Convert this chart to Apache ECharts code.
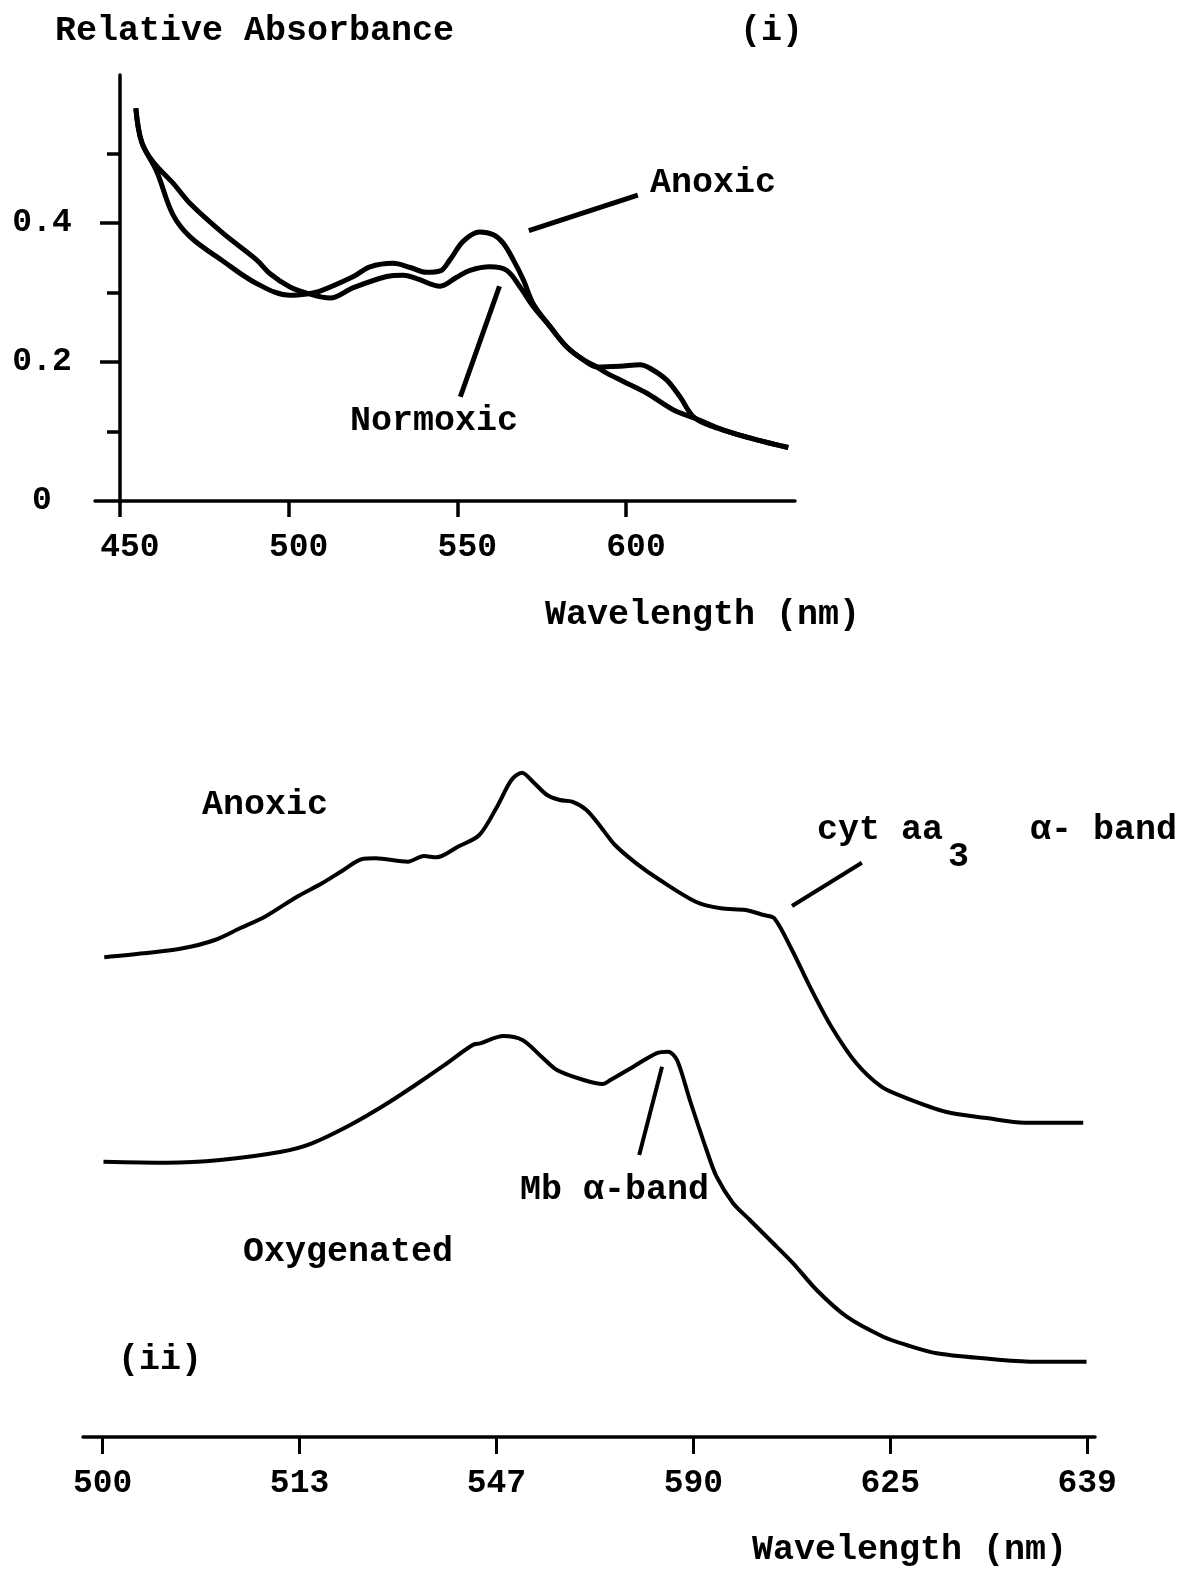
<!DOCTYPE html>
<html>
<head>
<meta charset="utf-8">
<script src="https://cdn.jsdelivr.net/npm/echarts@6/dist/echarts.min.js"></script>
<style>
  html, body { margin: 0; padding: 0; background: #fff; }
  #chart { width: 1181px; height: 1569px; }
</style>
</head>
<body>
<div id="chart"></div>
<script>
// ---------- Panel (i): Relative absorbance vs wavelength (nm) ----------
const xTicksI = [450, 500, 550, 600];
const yMajorTicksI = [0, 0.2, 0.4];
const yMinorTicksI = [0.1, 0.3, 0.5];

const anoxicI = [
  [454.7, 0.565], [456.4, 0.517], [460.9, 0.474], [465.7, 0.412], [470.8, 0.380],
  [480.6, 0.345], [490.5, 0.313], [500.4, 0.296], [505.4, 0.298],
  [509.3, 0.302], [519.2, 0.323], [524.1, 0.337], [531.0, 0.342], [536.0, 0.336],
  [540.9, 0.329], [544.9, 0.331], [547.8, 0.347], [551.8, 0.374], [556.7, 0.387],
  [560.7, 0.383], [563.6, 0.371], [566.6, 0.347], [569.6, 0.318], [572.5, 0.284],
  [577.5, 0.251], [582.4, 0.222], [587.4, 0.203], [591.3, 0.193], [598.2, 0.194],
  [604.2, 0.196], [607.1, 0.191], [612.1, 0.174], [616.0, 0.150], [620.5, 0.119],
  [628.9, 0.102], [638.8, 0.088], [648.1, 0.077]
];

const normoxicI = [
  [454.7, 0.565], [456.4, 0.517], [459.8, 0.488], [465.8, 0.457], [470.8, 0.428],
  [480.6, 0.385], [490.5, 0.347], [494.5, 0.327], [500.4, 0.308], [505.4, 0.299],
  [512.3, 0.292], [519.2, 0.307], [529.1, 0.323], [534.0, 0.325], [538.0, 0.320],
  [544.9, 0.309], [549.8, 0.322], [553.8, 0.332], [559.7, 0.337], [564.6, 0.332],
  [568.6, 0.308], [572.5, 0.280], [577.5, 0.251], [582.4, 0.222], [587.4, 0.203],
  [591.3, 0.193], [594.3, 0.184], [599.2, 0.172], [606.2, 0.155], [614.1, 0.131],
  [620.5, 0.119], [628.9, 0.102], [638.8, 0.088], [648.1, 0.077]
];

const leaderAnoxicI = [[571.2, 0.389], [603.5, 0.440]];
const leaderNormoxicI = [[550.9, 0.150], [562.5, 0.309]];

// ---------- Panel (ii): spectra on an evenly-spaced tick scale ----------
// x values are positions along the axis measured in tick steps (0 = "500", 5 = "639")
const xTickLabelsII = ['500', '513', '547', '590', '625', '639'];

const anoxicII = [
  [0.008, 4.797], [0.208, 4.837], [0.407, 4.887], [0.570, 4.970], [0.697, 5.087],
  [0.824, 5.203], [0.987, 5.403], [1.114, 5.537], [1.223, 5.670], [1.314, 5.777],
  [1.386, 5.787], [1.550, 5.753], [1.631, 5.810], [1.695, 5.797], [1.804, 5.903],
  [1.913, 6.020], [2.003, 6.303], [2.076, 6.570], [2.130, 6.643], [2.185, 6.553],
  [2.257, 6.420], [2.322, 6.370], [2.384, 6.353], [2.457, 6.270], [2.529, 6.103],
  [2.602, 5.920], [2.710, 5.737], [2.830, 5.570], [3.012, 5.353], [3.139, 5.287],
  [3.266, 5.270], [3.357, 5.220], [3.411, 5.187], [3.501, 4.870], [3.592, 4.503],
  [3.701, 4.103], [3.828, 3.737], [3.955, 3.503], [4.064, 3.403], [4.281, 3.253],
  [4.499, 3.187], [4.681, 3.143], [4.980, 3.143]
];

const oxygenatedII = [
  [0.004, 2.753], [0.324, 2.743], [0.596, 2.770], [0.907, 2.853], [1.063, 2.937],
  [1.257, 3.120], [1.432, 3.320], [1.588, 3.520], [1.724, 3.703], [1.879, 3.920],
  [1.918, 3.937], [2.035, 4.010], [2.132, 3.970], [2.229, 3.803], [2.307, 3.670],
  [2.443, 3.570], [2.540, 3.530], [2.579, 3.570], [2.695, 3.703], [2.812, 3.837],
  [2.871, 3.853], [2.917, 3.770], [2.982, 3.370], [3.067, 2.870], [3.118, 2.603],
  [3.202, 2.337], [3.287, 2.170], [3.389, 1.970], [3.507, 1.737], [3.626, 1.470],
  [3.779, 1.203], [3.964, 1.003], [4.083, 0.920], [4.236, 0.837], [4.472, 0.787],
  [4.726, 0.753], [4.997, 0.753]
];

const leaderCytII = [[3.501, 5.31], [3.856, 5.743]];
const leaderMbII = [[2.725, 2.82], [2.841, 3.703]];

// ---------- Chart ----------
const FONT = '"Liberation Mono", "Courier New", monospace';
const chart = echarts.init(document.getElementById('chart'), null, { renderer: 'canvas' });

function leader(pts, w) {
  return {
    symbol: ['none', 'none'],
    silent: true,
    animation: false,
    label: { show: false },
    emphasis: { disabled: true },
    lineStyle: { color: '#000', width: w, type: 'solid' },
    data: [[{ coord: pts[0] }, { coord: pts[1] }]]
  };
}

function txt(text, x, y, size) {
  return {
    type: 'text', x: x, y: y, silent: true,
    style: {
      text: text, fill: '#000',
      font: 'bold ' + (size || 35) + 'px ' + FONT,
      verticalAlign: 'middle', align: 'left'
    }
  };
}

const option = {
  backgroundColor: '#fff',
  animation: false,
  grid: [
    { left: 95, top: 75, width: 700, height: 426 },
    { left: 83, top: 700, width: 1012, height: 737 }
  ],
  xAxis: [
    {
      type: 'value', gridIndex: 0, min: 442.6, max: 650.1,
      splitLine: { show: false },
      axisLine: { show: true, onZero: false, lineStyle: { color: '#000', width: 3.5 } },
      axisTick: { show: true, customValues: xTicksI, length: 16, inside: false,
        lineStyle: { color: '#000', width: 3.5 } },
      axisLabel: { show: true, customValues: xTicksI, margin: 30, padding: [0, 0, 0, 20],
        color: '#000', fontFamily: FONT, fontWeight: 'bold', fontSize: 33 }
    },
    {
      type: 'value', gridIndex: 1, min: -0.1, max: 5.04,
      splitLine: { show: false },
      axisLine: { show: true, onZero: false, lineStyle: { color: '#000', width: 3.5 } },
      axisTick: { show: true, customValues: [0, 1, 2, 3, 4, 5], length: 17, inside: false,
        lineStyle: { color: '#000', width: 3 } },
      axisLabel: { show: true, customValues: [0, 1, 2, 3, 4, 5], margin: 30,
        formatter: function (v) { return xTickLabelsII[Math.round(v)]; },
        color: '#000', fontFamily: FONT, fontWeight: 'bold', fontSize: 33 }
    }
  ],
  yAxis: [
    {
      type: 'value', gridIndex: 0, position: 'left', min: 0, max: 0.613, offset: -25,
      splitLine: { show: false },
      axisLine: { show: true, onZero: false, lineStyle: { color: '#000', width: 3.5 } },
      axisTick: { show: true, customValues: [0.2, 0.4], length: 20,
        lineStyle: { color: '#000', width: 3.5 } },
      axisLabel: { show: true, customValues: yMajorTicksI, margin: 78, align: 'center',
        formatter: function (v) { return v === 0 ? '0' : v.toFixed(1); },
        color: '#000', fontFamily: FONT, fontWeight: 'bold', fontSize: 33 }
    },
    {
      type: 'value', gridIndex: 0, position: 'left', min: 0, max: 0.613, offset: -25,
      splitLine: { show: false },
      axisLine: { show: false, onZero: false },
      axisTick: { show: true, customValues: yMinorTicksI, length: 13,
        lineStyle: { color: '#000', width: 3.5 } },
      axisLabel: { show: false }
    },
    {
      type: 'value', gridIndex: 1, min: 0, max: 7.37, show: false
    }
  ],
  series: [
    {
      name: 'Anoxic (i)', type: 'line', xAxisIndex: 0, yAxisIndex: 0,
      data: anoxicI, smooth: 0.35, showSymbol: false, silent: true,
      lineStyle: { color: '#000', width: 5 },
      markLine: leader(leaderAnoxicI, 5)
    },
    {
      name: 'Normoxic (i)', type: 'line', xAxisIndex: 0, yAxisIndex: 0,
      data: normoxicI, smooth: 0.35, showSymbol: false, silent: true,
      lineStyle: { color: '#000', width: 5 },
      markLine: leader(leaderNormoxicI, 5)
    },
    {
      name: 'Anoxic (ii)', type: 'line', xAxisIndex: 1, yAxisIndex: 2,
      data: anoxicII, smooth: 0.3, showSymbol: false, silent: true,
      lineStyle: { color: '#000', width: 4 },
      markLine: leader(leaderCytII, 4)
    },
    {
      name: 'Oxygenated (ii)', type: 'line', xAxisIndex: 1, yAxisIndex: 2,
      data: oxygenatedII, smooth: 0.3, showSymbol: false, silent: true,
      lineStyle: { color: '#000', width: 4 },
      markLine: leader(leaderMbII, 4)
    }
  ],
  graphic: [
    txt('Relative Absorbance', 55, 31),
    txt('(i)', 740, 31),
    txt('Anoxic', 650, 183),
    txt('Normoxic', 350, 421),
    txt('Wavelength (nm)', 545, 615),
    txt('Anoxic', 202, 805),
    txt('cyt aa', 817, 830),
    txt('3', 948, 857),
    txt('α- band', 1030, 830),
    txt('Mb α-band', 520, 1190),
    txt('Oxygenated', 243, 1252),
    txt('(ii)', 118, 1360),
    txt('Wavelength (nm)', 752, 1550)
  ]
};

chart.setOption(option);
</script>
</body>
</html>
